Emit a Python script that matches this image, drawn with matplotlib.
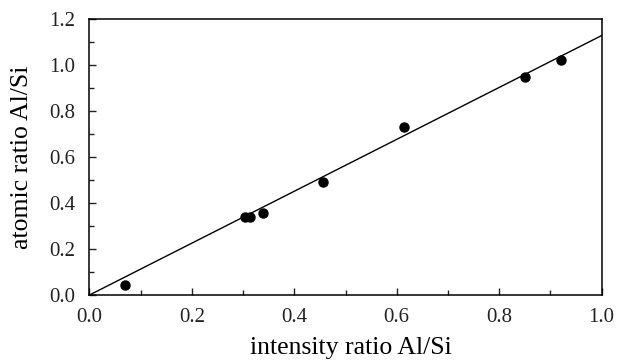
import matplotlib
matplotlib.use('Agg')
import matplotlib.pyplot as plt
import numpy as np
from matplotlib.ticker import MultipleLocator, FormatStrFormatter

# intensity ratio vs atomic ratio Al/Si
intensity = [0.069, 0.304, 0.313, 0.338, 0.457, 0.614, 0.851, 0.920]
atomic = [0.043, 0.338, 0.338, 0.355, 0.493, 0.730, 0.948, 1.022]

# fitted line through origin
fit_x = [0.0, 1.0]
fit_slope = 1.128

plt.rcParams['font.family'] = ['Liberation Serif', 'DejaVu Serif']

fig = plt.figure(figsize=(6.17, 3.62), dpi=100)
ax = fig.add_axes([0.145, 0.185, 0.830, 0.7625])

ax.plot(fit_x, [fit_slope * v for v in fit_x], color='black', lw=1.0)
ax.plot(intensity, atomic, 'o', color='black', markersize=6.5)

ax.set_xlim(0, 1.0)
ax.set_ylim(0, 1.2)
ax.xaxis.set_major_locator(MultipleLocator(0.2))
ax.xaxis.set_minor_locator(MultipleLocator(0.1))
ax.yaxis.set_major_locator(MultipleLocator(0.2))
ax.yaxis.set_minor_locator(MultipleLocator(0.1))
ax.xaxis.set_major_formatter(FormatStrFormatter('%.1f'))
ax.yaxis.set_major_formatter(FormatStrFormatter('%.1f'))
ax.tick_params(which='both', direction='in', top=False, right=False, labelsize=15, colors='#222222')
ax.tick_params(which='major', length=5, width=1)
ax.tick_params(which='minor', length=3.5, width=1)
ax.tick_params(axis='x', pad=9)
ax.tick_params(axis='y', pad=10)
for s in ax.spines.values():
    s.set_linewidth(1.1)

ax.set_xlabel('intensity ratio Al/Si', fontsize=18.5)
ax.set_ylabel('atomic ratio Al/Si', fontsize=18.5)
ax.xaxis.set_label_coords(0.511, -0.152)
ax.yaxis.set_label_coords(-0.11, 0.5)

fig.savefig('out.png', dpi=100)
